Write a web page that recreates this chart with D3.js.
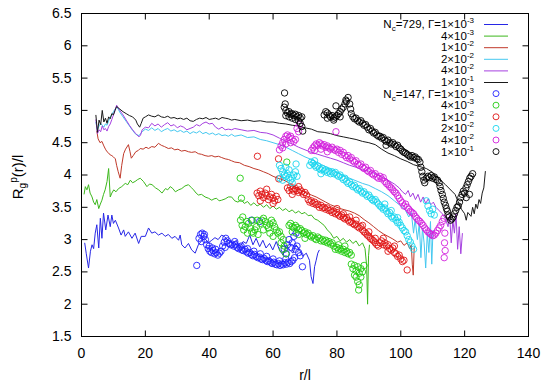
<!DOCTYPE html>
<html>
<head>
<meta charset="utf-8">
<script src="https://cdn.jsdelivr.net/npm/d3@7"></script>
<style>
  body { margin: 0; background: #fff; }
  svg text { font-family: "Liberation Sans", Arial, sans-serif; }
</style>
</head>
<body>
<svg id="chart" width="550" height="391"></svg>
<script>
'use strict';

// axis ticks
var xTicks = [0, 20, 40, 60, 80, 100, 120, 140];
var yTicks = [1.5, 2, 2.5, 3, 3.5, 4, 4.5, 5, 5.5, 6, 6.5];

// legend
var ncValues = [729, 147];
var gammaMant = ['1', '4', '1', '2', '4', '1'];
var gammaExp = ['-3', '-3', '-2', '-2', '-2', '-1'];

// N_c = 729, drawn as lines  [r/l, Rg/l]
var line1e3 = [[1.0,2.95],[1.5,2.78],[2.2,2.56],[2.8,2.82],[3.3,2.92],[3.8,2.86],[4.3,3.1],[4.8,3.23],[5.4,2.87],[5.9,3.33],[6.4,3.02],[6.9,3.41],[7.6,3.15],[8.3,3.38],[9.0,3.2],[9.5,3.38],[10.0,3.25],[10.6,3.3],[11.6,3.18],[12.4,3.07],[13.2,3.15],[13.7,3.05],[14.7,3.12],[15.8,3.02],[16.8,3.1],[17.9,2.94],[18.7,3.05],[20.0,3.05],[21.0,3.18],[22.0,3.1],[23.0,3.12],[24.1,3.07],[25.2,3.1],[26.2,3.05],[27.2,3.08],[28.3,3.02],[29.3,3.05],[30.4,2.99],[30.9,3.07],[31.4,2.92],[32.4,2.87],[33.5,2.94],[34.5,2.84],[35.6,2.79],[36.6,2.92],[37.6,2.98],[38.6,3.02],[39.7,2.95],[40.8,2.99],[41.8,3.03],[42.8,3.0],[43.9,3.07],[44.9,3.04],[46.4,2.97],[47.4,2.94],[48.5,2.99],[49.5,2.87],[50.6,2.97],[51.6,2.94],[52.7,3.07],[53.7,2.92],[54.7,3.02],[55.8,2.89],[56.8,2.99],[57.8,2.87],[58.9,2.94],[59.9,2.84],[61.0,2.97],[62.0,2.84],[63.1,2.76],[64.1,2.92],[65.2,2.84],[66.2,2.79],[67.2,2.92],[68.3,2.84],[69.3,2.74],[70.4,2.79],[71.4,2.68],[71.9,2.43],[72.5,2.32],[73.0,2.58],[73.5,2.68],[74.0,2.79],[74.5,2.84]];
var line4e3 = [[0.8,3.7],[1.2,3.82],[1.7,3.77],[2.2,3.85],[2.7,3.72],[3.3,3.66],[3.8,3.58],[4.3,3.54],[4.8,3.62],[5.4,3.48],[5.9,3.55],[6.4,3.61],[6.9,3.7],[7.4,3.77],[8.0,3.9],[8.5,4.1],[9.0,3.66],[9.5,3.72],[10.1,3.77],[10.8,3.74],[11.6,3.79],[12.6,3.82],[13.7,3.87],[14.5,3.85],[15.3,3.92],[16.0,3.88],[16.8,3.9],[17.6,3.93],[18.4,3.95],[19.4,3.9],[20.5,3.82],[21.3,3.86],[22.1,3.85],[23.2,3.8],[24.2,3.77],[25.2,3.72],[26.3,3.79],[27.0,3.77],[27.8,3.82],[28.6,3.79],[29.4,3.74],[30.4,3.77],[31.4,3.79],[32.4,3.83],[33.5,3.85],[34.3,3.81],[35.1,3.77],[35.9,3.72],[36.6,3.69],[37.6,3.7],[38.7,3.66],[39.8,3.64],[40.8,3.61],[41.5,3.63],[42.3,3.64],[43.1,3.6],[43.9,3.61],[45.0,3.63],[46.0,3.66],[47.0,3.66],[48.0,3.6],[49.0,3.58],[50.0,3.62],[51.0,3.56],[52.0,3.59],[53.0,3.53],[54.0,3.57],[55.0,3.52],[56.0,3.55],[57.0,3.5],[58.0,3.54],[59.0,3.48],[60.0,3.52],[61.0,3.47],[62.0,3.5],[63.0,3.45],[64.0,3.48],[65.0,3.43],[66.0,3.46],[67.0,3.41],[68.0,3.44],[69.0,3.4],[70.0,3.42],[71.0,3.37],[72.0,3.38],[73.0,3.32],[74.0,3.3],[75.0,3.26],[76.0,3.22],[77.0,3.15],[78.0,3.1],[79.0,3.02],[80.0,3.05],[81.0,2.98],[82.0,3.02],[83.0,2.96],[84.0,3.0],[85.0,2.94],[86.0,2.98],[87.0,2.9],[88.0,2.95],[88.8,2.86],[89.3,2.6],[89.6,2.0],[89.9,2.75],[90.2,2.92]];
var line1e2 = [[4.8,4.68],[5.2,4.56],[5.8,4.5],[6.4,4.52],[7.0,4.45],[7.5,4.4],[8.0,4.36],[8.5,4.34],[9.0,4.31],[9.5,4.3],[10.0,4.28],[10.6,4.25],[11.0,4.15],[11.5,4.05],[12.1,3.95],[12.6,4.15],[13.2,4.33],[13.8,4.4],[14.7,4.47],[15.2,4.36],[15.6,4.26],[16.2,4.3],[17.0,4.36],[17.8,4.38],[18.4,4.41],[19.3,4.4],[20.2,4.43],[21.0,4.41],[22.0,4.44],[23.0,4.43],[24.1,4.49],[25.0,4.46],[26.0,4.44],[27.2,4.41],[28.2,4.42],[29.2,4.39],[30.2,4.4],[31.3,4.37],[32.4,4.38],[33.5,4.36],[34.5,4.35],[35.6,4.36],[36.6,4.33],[37.6,4.32],[38.7,4.3],[39.7,4.29],[40.8,4.3],[41.8,4.28],[42.9,4.29],[43.9,4.27],[45.0,4.25],[46.0,4.24],[47.0,4.22],[48.0,4.2],[49.5,4.19],[51.0,4.15],[52.5,4.13],[54.0,4.1],[55.5,4.08],[57.0,4.05],[58.5,4.02],[60.0,3.98],[61.5,3.95],[63.0,3.93],[64.5,3.89],[66.0,3.84],[67.5,3.8],[69.0,3.76],[70.5,3.72],[72.0,3.69],[73.5,3.66],[75.0,3.62],[76.5,3.58],[78.0,3.54],[79.5,3.51],[81.0,3.48],[82.5,3.46],[84.0,3.44],[85.5,3.41],[87.0,3.37],[88.5,3.31],[90.0,3.26],[91.5,3.2],[93.0,3.14],[94.5,3.09],[96.0,3.05],[97.5,3.01],[99.0,2.96],[100.0,2.98],[101.0,2.91],[102.0,2.95],[102.8,2.86],[103.3,2.92],[103.6,2.62],[103.9,2.45],[104.2,2.88]];
var line2e2 = [[4.5,4.82],[5.0,4.7],[5.5,4.76],[6.0,4.8],[6.5,4.77],[7.0,4.74],[7.5,4.79],[8.0,4.77],[8.5,4.84],[9.0,4.89],[9.5,4.94],[10.0,4.98],[10.5,5.02],[11.0,5.05],[11.5,5.02],[12.0,4.97],[13.0,4.9],[14.0,4.83],[15.0,4.76],[16.0,4.69],[17.0,4.63],[18.0,4.61],[19.0,4.67],[20.0,4.71],[21.0,4.69],[22.0,4.73],[23.0,4.69],[24.0,4.72],[25.0,4.67],[26.0,4.7],[27.0,4.72],[28.0,4.68],[29.0,4.7],[30.0,4.67],[31.0,4.69],[32.0,4.66],[33.0,4.68],[34.0,4.64],[35.0,4.67],[36.0,4.65],[37.0,4.68],[38.0,4.64],[39.0,4.66],[40.0,4.63],[41.0,4.65],[42.0,4.62],[43.0,4.64],[44.0,4.61],[45.0,4.62],[46.0,4.6],[47.0,4.63],[48.0,4.6],[50.0,4.62],[52.0,4.58],[54.0,4.59],[56.0,4.55],[58.0,4.53],[60.0,4.5],[62.0,4.47],[64.0,4.43],[66.0,4.38],[68.0,4.33],[70.0,4.28],[72.0,4.24],[74.0,4.19],[76.0,4.14],[78.0,4.09],[80.0,4.04],[82.0,3.99],[84.0,3.95],[86.0,3.91],[88.0,3.87],[90.0,3.84],[92.0,3.79],[94.0,3.74],[96.0,3.68],[98.0,3.6],[100.0,3.52],[101.5,3.45],[102.5,3.35],[103.3,3.42],[104.0,3.1],[104.5,3.32],[105.2,3.0],[105.8,3.25],[106.3,2.72],[106.8,3.18],[107.3,2.95],[107.8,2.56],[108.3,3.1],[108.8,2.8],[109.3,3.28],[109.7,2.62],[110.1,3.15]];
var line4e2 = [[4.5,4.86],[5.0,4.64],[5.5,4.7],[6.0,4.67],[6.5,4.76],[7.0,4.7],[7.5,4.72],[8.0,4.68],[8.5,4.75],[9.0,4.79],[9.5,4.86],[10.0,4.93],[10.5,5.0],[11.0,5.08],[11.5,5.04],[12.0,5.0],[13.0,4.93],[14.0,4.85],[15.0,4.77],[16.0,4.7],[17.0,4.64],[18.0,4.59],[18.5,4.62],[19.0,4.7],[20.0,4.74],[21.0,4.73],[22.0,4.8],[23.0,4.76],[24.0,4.79],[25.0,4.74],[26.0,4.78],[27.0,4.81],[28.0,4.76],[29.0,4.78],[30.0,4.73],[31.0,4.76],[32.0,4.74],[33.0,4.7],[34.0,4.72],[35.0,4.74],[36.0,4.78],[37.0,4.76],[38.0,4.8],[39.0,4.82],[40.0,4.79],[41.0,4.8],[42.0,4.74],[43.0,4.71],[44.0,4.74],[45.0,4.7],[46.0,4.71],[47.0,4.7],[48.0,4.72],[50.0,4.7],[52.0,4.68],[54.0,4.69],[56.0,4.66],[58.0,4.65],[60.0,4.62],[62.0,4.57],[64.0,4.52],[66.0,4.48],[68.0,4.43],[70.0,4.39],[72.0,4.35],[74.0,4.32],[76.0,4.29],[78.0,4.26],[80.0,4.23],[82.0,4.19],[84.0,4.15],[86.0,4.12],[88.0,4.08],[90.0,4.06],[92.0,4.02],[94.0,3.97],[96.0,3.92],[98.0,3.86],[99.5,3.8],[100.5,3.74],[101.5,3.7],[102.3,3.76],[103.0,3.66],[103.8,3.72],[104.6,3.62],[105.4,3.7],[106.2,3.58],[107.0,3.66],[107.8,3.56],[108.6,3.63],[109.4,3.54],[110.2,3.58],[111.0,3.5],[112.0,3.45],[113.0,3.4],[114.0,3.32],[114.8,3.2],[115.3,3.38],[115.8,2.95],[116.3,3.3],[116.8,3.1],[117.3,3.4],[117.8,2.85],[118.3,3.2],[118.8,2.78],[119.3,3.1]];
var line1e1 = [[4.5,4.93],[5.0,4.66],[5.5,4.85],[6.0,4.78],[6.5,5.0],[7.0,4.82],[7.5,4.88],[8.0,4.8],[8.5,4.9],[9.0,4.87],[9.5,4.95],[10.0,4.93],[10.5,5.0],[11.0,5.06],[11.5,5.04],[12.0,5.02],[13.0,4.98],[14.0,4.95],[15.0,4.92],[16.0,4.9],[17.0,4.85],[17.5,4.79],[18.2,4.74],[18.7,4.8],[19.3,4.88],[20.0,4.9],[21.0,4.93],[22.0,4.91],[23.0,4.9],[24.0,4.93],[25.0,4.9],[26.0,4.89],[27.0,4.91],[28.0,4.88],[29.0,4.89],[30.0,4.87],[31.0,4.88],[32.0,4.86],[33.0,4.88],[34.0,4.84],[35.0,4.83],[36.0,4.86],[37.0,4.88],[38.0,4.87],[39.0,4.89],[40.0,4.86],[41.0,4.87],[42.0,4.88],[43.0,4.86],[44.0,4.89],[45.0,4.88],[46.0,4.87],[47.0,4.85],[48.0,4.86],[50.0,4.84],[52.0,4.85],[54.0,4.83],[56.0,4.84],[58.0,4.82],[60.0,4.82],[62.0,4.8],[64.0,4.79],[66.0,4.77],[68.0,4.76],[70.0,4.73],[72.0,4.71],[74.0,4.67],[76.0,4.66],[78.0,4.64],[80.0,4.61],[82.0,4.59],[84.0,4.57],[86.0,4.55],[88.0,4.52],[90.0,4.5],[92.0,4.47],[94.0,4.4],[96.0,4.34],[98.0,4.3],[100.0,4.25],[102.0,4.21],[104.0,4.16],[106.0,4.13],[108.0,4.1],[110.0,4.04],[112.0,3.94],[114.0,3.85],[116.0,3.75],[117.0,3.7],[118.0,3.58],[119.0,3.47],[120.0,3.4],[120.5,3.3],[121.0,3.42],[122.0,3.36],[122.5,3.5],[123.0,3.4],[123.5,3.55],[124.0,3.48],[124.5,3.62],[125.0,3.56],[125.5,3.72],[126.0,3.8],[126.5,4.06]];

// N_c = 147, drawn as circles  [r/l, Rg/l]
var circ1e3 = [[36.1,2.6],[36.8,3.02],[37.3,3.08],[37.8,3.1],[38.3,3.05],[38.8,3.0],[37.5,2.97],[38.5,3.08],[39.2,2.92],[39.7,2.86],[40.2,2.82],[40.7,2.8],[41.2,2.83],[41.7,2.78],[42.2,2.8],[42.7,2.76],[43.2,2.79],[43.7,2.82],[40.0,2.9],[41.0,2.87],[42.0,2.85],[44.2,2.9],[44.7,2.96],[45.2,3.02],[45.7,2.98],[46.2,2.94],[46.7,2.92],[45.0,2.88],[47.2,2.93],[47.7,2.9],[48.2,2.92],[48.7,2.88],[49.2,2.86],[49.7,2.88],[50.2,2.84],[50.7,2.83],[51.2,2.85],[51.7,2.81],[52.2,2.79],[52.7,2.8],[53.2,2.77],[53.7,2.75],[54.2,2.77],[54.7,2.74],[55.2,2.72],[55.7,2.73],[56.2,2.7],[56.7,2.69],[57.2,2.71],[57.7,2.68],[58.2,2.66],[58.7,2.67],[59.2,2.65],[59.7,2.63],[60.2,2.65],[60.7,2.62],[61.2,2.61],[61.7,2.63],[62.2,2.6],[62.7,2.62],[63.2,2.61],[63.7,2.64],[64.2,2.62],[64.7,2.65],[65.2,2.63],[65.7,2.66],[66.2,2.68],[66.7,2.72],[48.0,2.97],[50.0,2.9],[52.0,2.86],[54.0,2.82],[56.0,2.78],[58.0,2.74],[60.0,2.7],[62.0,2.67],[64.0,2.7],[63.5,2.85],[64.5,2.92],[65.0,3.0],[65.5,2.88],[66.0,2.95],[66.5,3.05],[67.0,2.85],[67.5,2.9],[68.0,2.8],[68.5,2.75],[69.2,2.58],[64.2,2.78],[67.2,3.1],[53.2,3.3],[55.8,3.28]];
var circ4e3 = [[49.7,3.95],[50.1,3.64],[49.8,3.3],[50.3,3.22],[50.8,3.15],[51.3,3.2],[51.8,3.28],[52.3,3.25],[52.8,3.18],[53.3,3.12],[53.8,3.1],[54.3,3.15],[54.8,3.2],[55.3,3.08],[50.5,3.35],[52.0,3.1],[53.5,3.3],[55.0,3.3],[56.0,3.25],[56.5,3.3],[57.0,3.33],[57.5,3.28],[58.0,3.22],[58.5,3.18],[59.0,3.24],[59.5,3.3],[60.0,3.26],[60.5,3.2],[61.0,3.15],[61.5,3.1],[62.0,3.12],[57.0,3.15],[59.0,3.1],[60.0,3.05],[62.5,3.05],[62.5,2.95],[63.0,2.85],[63.5,2.9],[64.0,2.78],[63.2,3.0],[65.0,3.22],[65.5,3.25],[66.0,3.2],[66.5,3.18],[67.0,3.22],[67.5,3.19],[68.0,3.15],[68.5,3.17],[69.0,3.14],[69.5,3.1],[70.0,3.12],[70.5,3.08],[71.0,3.1],[71.5,3.06],[72.0,3.04],[72.5,3.06],[73.0,3.02],[66.0,3.12],[68.0,3.08],[70.0,3.02],[73.5,3.0],[74.0,3.04],[74.5,3.02],[75.0,2.98],[75.5,3.0],[76.0,2.97],[76.5,2.99],[77.0,2.95],[77.5,2.97],[78.0,2.93],[78.5,2.95],[79.0,2.9],[79.5,2.85],[80.0,2.88],[80.5,2.84],[81.0,2.86],[81.5,2.82],[82.0,2.85],[82.5,2.8],[83.0,2.82],[83.5,2.78],[84.0,2.8],[84.5,2.76],[80.5,2.92],[82.5,2.9],[84.5,2.62],[85.0,2.55],[85.5,2.6],[86.0,2.52],[86.5,2.58],[87.0,2.48],[87.5,2.55],[86.0,2.42],[86.5,2.35],[87.0,2.3],[87.5,2.42],[88.0,2.5],[88.5,2.6],[85.5,2.45],[86.8,2.22],[64.3,4.2]];
var circ1e2 = [[55.1,4.29],[61.7,4.25],[61.8,3.94],[55.0,3.72],[55.5,3.68],[56.0,3.75],[56.5,3.7],[57.0,3.65],[57.5,3.72],[58.0,3.68],[58.5,3.62],[59.0,3.66],[59.5,3.7],[60.0,3.64],[60.5,3.6],[61.0,3.67],[56.0,3.6],[58.0,3.78],[60.0,3.56],[61.5,3.62],[64.5,3.8],[65.0,3.76],[65.5,3.82],[66.0,3.78],[66.5,3.75],[67.0,3.79],[67.5,3.76],[68.0,3.73],[68.5,3.77],[69.0,3.74],[69.5,3.7],[70.0,3.73],[70.5,3.69],[66.0,3.7],[68.0,3.82],[71.0,3.62],[71.5,3.58],[72.0,3.6],[72.5,3.56],[73.0,3.58],[73.5,3.54],[74.0,3.55],[74.5,3.5],[75.0,3.53],[75.5,3.49],[76.0,3.5],[76.5,3.47],[77.0,3.49],[77.5,3.45],[78.0,3.46],[78.5,3.42],[79.0,3.44],[79.5,3.4],[80.0,3.42],[80.5,3.38],[81.0,3.36],[81.5,3.38],[82.0,3.34],[82.5,3.32],[83.0,3.34],[83.5,3.3],[84.0,3.27],[84.5,3.28],[85.0,3.25],[85.5,3.23],[86.0,3.24],[86.5,3.2],[87.0,3.18],[87.5,3.2],[88.0,3.15],[88.5,3.12],[89.0,3.1],[89.5,3.07],[90.0,3.05],[90.5,3.02],[91.0,3.0],[91.5,2.98],[92.0,2.95],[92.5,2.92],[93.0,2.9],[80.0,3.48],[82.0,3.4],[84.0,3.35],[86.0,3.3],[88.0,3.22],[90.0,3.12],[92.0,3.02],[93.5,2.95],[94.0,2.98],[94.5,2.92],[95.0,2.95],[95.5,2.9],[96.0,2.92],[96.5,2.86],[97.0,2.84],[97.5,2.87],[98.0,2.8],[98.5,2.78],[99.0,2.74],[99.5,2.76],[100.0,2.7],[100.5,2.66],[101.0,2.68],[102.0,2.53],[94.5,3.02],[96.0,2.82],[98.0,2.9]];
var circ2e2 = [[62.0,4.15],[62.5,4.1],[63.0,4.05],[63.5,4.0],[64.0,3.98],[64.5,4.02],[65.0,3.96],[65.5,3.92],[66.0,3.95],[66.5,4.0],[67.0,4.05],[67.5,3.98],[63.0,3.92],[64.0,4.12],[65.0,4.08],[66.0,3.88],[62.2,3.95],[67.2,4.17],[71.5,4.15],[72.0,4.2],[72.5,4.18],[73.0,4.15],[73.5,4.12],[74.0,4.14],[74.5,4.1],[75.0,4.08],[75.5,4.1],[76.0,4.06],[76.5,4.08],[77.0,4.04],[77.5,4.06],[78.0,4.02],[73.0,4.22],[75.0,4.02],[78.5,4.05],[79.0,4.02],[79.5,4.04],[80.0,4.0],[80.5,3.98],[81.0,4.0],[81.5,3.96],[82.0,3.93],[82.5,3.95],[83.0,3.9],[83.5,3.87],[84.0,3.89],[84.5,3.85],[85.0,3.82],[85.5,3.84],[86.0,3.8],[86.5,3.77],[87.0,3.79],[87.5,3.75],[88.0,3.72],[88.5,3.74],[89.0,3.7],[89.5,3.67],[90.0,3.69],[90.5,3.65],[91.0,3.62],[91.5,3.6],[92.0,3.62],[92.5,3.58],[93.0,3.55],[93.5,3.52],[94.0,3.5],[94.5,3.47],[95.0,3.49],[95.5,3.44],[96.0,3.4],[96.5,3.42],[97.0,3.36],[97.5,3.33],[98.0,3.35],[98.5,3.3],[99.0,3.26],[99.5,3.27],[100.0,3.22],[100.5,3.18],[101.0,3.14],[101.5,3.12],[102.0,3.06],[102.5,3.0],[103.0,2.96],[103.5,2.9],[104.0,2.85],[95.0,3.55],[97.0,3.45],[99.0,3.34],[108.0,3.6],[108.5,3.52],[109.0,3.45],[109.5,3.4],[110.0,3.47],[110.5,3.38]];
var circ4e2 = [[62.5,4.45],[63.0,4.5],[63.5,4.55],[64.0,4.6],[64.5,4.62],[65.0,4.58],[65.5,4.6],[66.0,4.56],[66.5,4.52],[67.0,4.55],[63.0,4.42],[64.0,4.48],[65.5,4.5],[62.0,4.39],[67.5,4.72],[68.0,4.67],[68.3,4.78],[72.0,4.38],[72.5,4.42],[73.0,4.45],[73.5,4.48],[74.0,4.46],[74.5,4.5],[75.0,4.48],[75.5,4.45],[76.0,4.47],[76.5,4.43],[77.0,4.45],[77.5,4.42],[78.0,4.4],[78.5,4.43],[79.0,4.4],[79.5,4.38],[80.0,4.4],[73.0,4.38],[75.0,4.4],[77.0,4.36],[79.7,4.67],[80.5,4.35],[81.0,4.38],[81.5,4.32],[82.0,4.35],[82.5,4.3],[83.0,4.27],[83.5,4.3],[84.0,4.25],[84.5,4.27],[85.0,4.22],[85.5,4.2],[86.0,4.22],[86.5,4.17],[87.0,4.15],[87.5,4.17],[88.0,4.12],[88.5,4.1],[89.0,4.12],[89.5,4.07],[90.0,4.05],[90.5,4.07],[91.0,4.02],[91.5,4.0],[92.0,4.02],[92.5,3.97],[93.0,3.95],[93.5,3.98],[94.0,3.94],[94.5,3.96],[95.0,3.9],[95.5,3.87],[96.0,3.85],[96.5,3.82],[97.0,3.8],[97.5,3.77],[98.0,3.74],[98.5,3.72],[99.0,3.68],[99.5,3.64],[100.0,3.6],[100.5,3.57],[101.0,3.52],[101.5,3.55],[102.0,3.5],[102.5,3.47],[103.0,3.44],[103.5,3.42],[104.0,3.4],[104.5,3.36],[105.0,3.33],[105.5,3.3],[106.0,3.28],[106.5,3.25],[107.0,3.22],[107.5,3.18],[108.0,3.15],[108.5,3.12],[109.0,3.1],[109.5,3.08],[110.0,3.06],[110.5,3.07],[111.0,3.1],[111.5,3.14],[112.0,3.18],[112.5,3.22],[113.0,3.28],[113.5,3.33],[113.8,3.1],[113.7,2.95],[113.9,2.83],[113.6,2.72]];
var circ1e1 = [[63.6,5.27],[63.8,5.1],[63.5,5.05],[64.0,5.0],[64.5,4.96],[65.0,4.98],[65.5,4.94],[66.0,4.95],[66.5,4.92],[67.0,4.94],[67.5,4.9],[68.0,4.92],[68.5,4.88],[69.0,4.9],[64.0,4.92],[65.0,4.9],[66.0,4.88],[67.0,4.86],[68.0,4.84],[68.5,4.8],[69.0,4.75],[69.3,4.68],[76.0,4.93],[76.5,4.98],[77.0,4.96],[77.5,4.93],[78.0,4.9],[78.5,4.92],[79.0,4.88],[79.5,4.9],[80.0,4.92],[80.5,4.95],[81.0,4.98],[81.5,5.02],[82.0,5.05],[82.5,5.1],[83.0,5.14],[77.0,4.88],[79.0,4.85],[81.0,4.9],[79.7,5.07],[82.8,5.16],[83.5,5.2],[84.0,5.1],[84.3,5.02],[84.5,4.95],[85.0,4.9],[85.5,4.87],[86.0,4.88],[86.5,4.84],[87.0,4.82],[87.5,4.84],[88.0,4.8],[88.5,4.77],[89.0,4.78],[89.5,4.74],[90.0,4.7],[90.5,4.72],[91.0,4.68],[91.5,4.65],[92.0,4.66],[92.5,4.62],[93.0,4.6],[93.5,4.6],[94.0,4.57],[94.5,4.58],[95.0,4.54],[95.4,4.46],[95.5,4.52],[96.0,4.54],[96.5,4.5],[97.0,4.48],[97.5,4.5],[98.0,4.47],[98.5,4.44],[99.0,4.46],[99.5,4.42],[100.0,4.4],[100.5,4.37],[101.0,4.35],[101.5,4.34],[102.0,4.32],[102.5,4.3],[103.0,4.28],[103.5,4.3],[104.0,4.27],[104.5,4.28],[105.0,4.25],[105.5,4.24],[106.0,4.2],[106.3,4.12],[106.6,4.05],[106.9,3.98],[107.2,3.92],[107.5,3.88],[108.0,3.95],[108.5,3.98],[109.0,3.96],[109.5,3.99],[110.0,3.95],[110.5,3.97],[111.0,3.93],[111.5,3.92],[112.0,3.88],[112.3,3.82],[112.6,3.76],[113.0,3.7],[113.3,3.64],[113.6,3.58],[114.0,3.53],[114.3,3.48],[114.6,3.44],[114.8,3.38],[115.2,3.35],[115.6,3.3],[116.0,3.32],[116.4,3.35],[116.8,3.4],[117.2,3.45],[117.6,3.5],[118.0,3.52],[118.4,3.58],[118.8,3.65],[119.2,3.7],[119.6,3.75],[120.0,3.72],[120.4,3.8],[120.8,3.85],[121.2,3.9],[121.6,3.95],[122.0,3.98],[122.5,4.02],[120.5,3.65],[121.5,3.7]];

var Chart = (function() {

  var svg, x, y;
  var left = 81.5, right = 528.5, top = 13.5, bottom = 336.5;

  var lineSeries = [line1e3, line4e3, line1e2, line2e2, line4e2, line1e1];
  var circSeries = [circ1e3, circ4e3, circ1e2, circ2e2, circ4e2, circ1e1];
  var lineColors = ['#2727e6', '#3cb81c', '#c0392a', '#45c8f0', '#a640e0', '#1a1a1a'];
  var circColors = ['#1f1fff', '#22cc11', '#e01515', '#1ad6ee', '#d21fdc', '#000000'];

  function Chart() {
    svg = d3.select('#chart');
    x = d3.scaleLinear().domain([0, 140]).range([left, right]);
    y = d3.scaleLinear().domain([1.5, 6.5]).range([bottom, top]);
    this.drawAxes();
    this.drawSeries();
    this.drawLegend();
  }

  Chart.prototype.drawAxes = function() {
    var gx = svg.append('g')
      .attr('transform', 'translate(0,' + bottom + ')')
      .call(d3.axisBottom(x).tickValues(xTicks).tickSizeInner(-6).tickSizeOuter(0)
        .tickPadding(12).offset(0));
    var gy = svg.append('g')
      .attr('transform', 'translate(' + left + ',0)')
      .call(d3.axisLeft(y).tickValues(yTicks).tickFormat(d => String(d))
        .tickSizeInner(-6).tickSizeOuter(0).tickPadding(10).offset(0));
    // mirrored ticks on top and right
    svg.append('g')
      .attr('transform', 'translate(0,' + top + ')')
      .call(d3.axisTop(x).tickValues(xTicks).tickSizeInner(-6).tickSizeOuter(0)
        .tickFormat('').offset(0));
    svg.append('g')
      .attr('transform', 'translate(' + right + ',0)')
      .call(d3.axisRight(y).tickValues(yTicks).tickSizeInner(-6).tickSizeOuter(0)
        .tickFormat('').offset(0));

    svg.selectAll('.domain').remove();
    svg.selectAll('.tick line').attr('stroke', '#000');
    [gx, gy].forEach(function(g) {
      g.attr('font-family', null).attr('font-size', null);
      g.selectAll('text').attr('font-size', 14).attr('fill', '#000');
    });

    svg.append('rect')
      .attr('x', left).attr('y', top)
      .attr('width', right - left).attr('height', bottom - top)
      .attr('fill', 'none').attr('stroke', '#000').attr('stroke-width', 1);

    svg.append('text')
      .attr('x', (left + right) / 2).attr('y', 380)
      .attr('text-anchor', 'middle').attr('font-size', 14)
      .text('r/l');

    var yl = svg.append('text')
      .attr('transform', 'translate(23,177) rotate(-90)')
      .attr('text-anchor', 'middle').attr('font-size', 15);
    yl.append('tspan').text('R');
    yl.append('tspan').attr('font-size', 10).attr('dy', 3).text('g');
    yl.append('tspan').attr('font-size', 10).attr('dy', -9).text('p');
    yl.append('tspan').attr('dy', 6).text('(r)/l');
  };

  Chart.prototype.drawSeries = function() {
    var line = d3.line().x(d => x(d[0])).y(d => y(d[1]));

    svg.append('g').selectAll('path')
      .data(lineSeries)
      .join('path')
        .attr('d', line)
        .attr('fill', 'none')
        .attr('stroke', (d, i) => lineColors[i])
        .attr('stroke-width', 1)
        .attr('stroke-linejoin', 'round');

    circSeries.forEach(function(s, i) {
      svg.append('g').selectAll('circle')
        .data(s)
        .join('circle')
          .attr('cx', d => x(d[0]))
          .attr('cy', d => y(d[1]))
          .attr('r', 3.2)
          .attr('fill', 'none')
          .attr('stroke', circColors[i])
          .attr('stroke-width', 0.9);
    });
  };

  Chart.prototype.drawLegend = function() {
    var rows = [];
    ncValues.forEach(function(nc, g) {
      gammaMant.forEach(function(m, k) {
        rows.push({ nc: nc, first: k === 0, mant: m, exp: gammaExp[k], k: k, group: g });
      });
    });

    var lg = svg.append('g').attr('font-size', 11.5);
    var row = lg.selectAll('g')
      .data(rows)
      .join('g')
        .attr('transform', (d, i) => 'translate(0,' + (24 + i * 11.6) + ')');

    row.each(function(d) {
      var r = d3.select(this);
      var t = r.append('text').attr('x', 474).attr('y', 4).attr('text-anchor', 'end');
      if (d.first) {
        t.append('tspan').text('N');
        t.append('tspan').attr('font-size', 8).attr('dy', 3).text('c');
        t.append('tspan').attr('dy', -3).text('=' + d.nc + ', \u0393=' + d.mant + '\u00d710');
      } else {
        t.append('tspan').text(d.mant + '\u00d710');
      }
      t.append('tspan').attr('font-size', 8).attr('dy', -5).text(d.exp);

      if (d.group === 0) {
        r.append('line')
          .attr('x1', 484).attr('x2', 508).attr('y1', 0.5).attr('y2', 0.5)
          .attr('stroke', lineColors[d.k]).attr('stroke-width', 1);
      } else {
        r.append('circle')
          .attr('cx', 496).attr('cy', 0).attr('r', 3)
          .attr('fill', 'none').attr('stroke', circColors[d.k]).attr('stroke-width', 0.9);
      }
    });
  };

  return Chart;

})();

new Chart();
</script>
</body>
</html>
